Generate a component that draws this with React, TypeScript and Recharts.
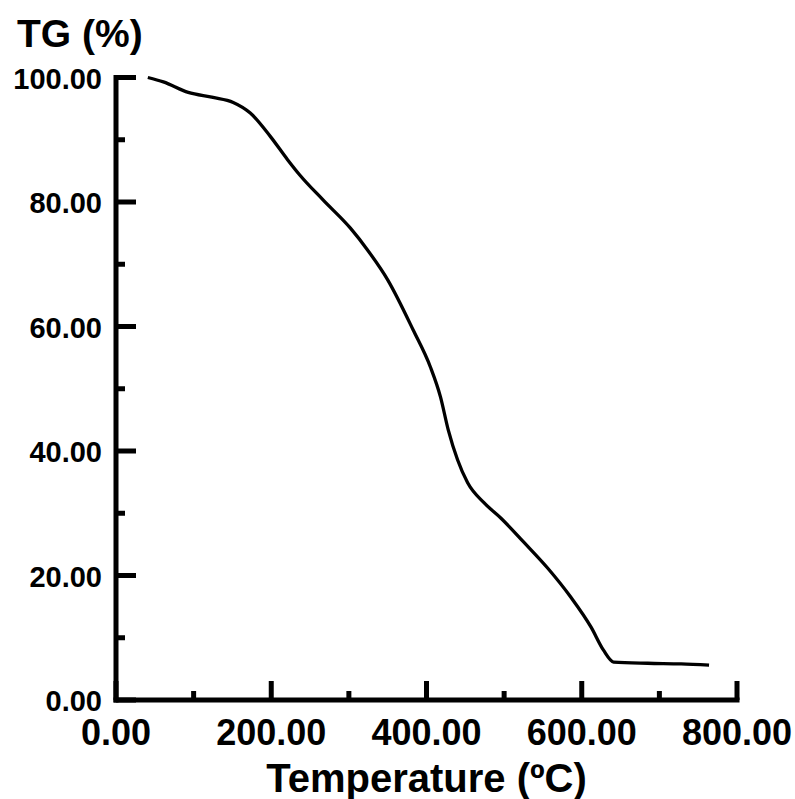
import { LineChart, Line, XAxis, YAxis, Label } from "recharts";

// TG curve (temperature in °C, mass in %)
const temperature = [
  41, 61, 93, 125, 151, 173, 199, 221, 237, 267, 302, 324, 350, 383, 405,
  418, 428, 440, 453, 474, 496, 525, 556, 586, 612, 628, 641, 685, 728, 764,
];
const tg = [
  100.0, 99.3, 97.6, 96.8, 96.0, 94.3, 90.5, 86.8, 84.3, 80.3, 75.8, 72.3,
  67.5, 59.4, 53.5, 48.7, 43.4, 38.6, 34.9, 31.7, 29.2, 25.4, 21.2, 16.5,
  11.7, 8.0, 6.1, 5.9, 5.8, 5.6,
];

const xTicks = [0, 100, 200, 300, 400, 500, 600, 700, 800];
const yTicks = [0, 10, 20, 30, 40, 50, 60, 70, 80, 90, 100];

const FONT = "'Liberation Sans', Arial, Helvetica, sans-serif";

const data = temperature.map((t, i) => ({ t, v: tg[i] }));

function XTick({ x, y, payload }: any) {
  const major = payload.value % 200 === 0;
  return (
    <g>
      <line x1={x} x2={x} y1={y} y2={y - (major ? 19 : 9)} stroke="#000" strokeWidth={5} />
      {major && (
        <text
          x={x}
          y={y + 45}
          textAnchor="middle"
          fontSize={36}
          fontWeight="bold"
          fontFamily={FONT}
          fill="#000"
        >
          {payload.value.toFixed(2)}
        </text>
      )}
    </g>
  );
}

function YTick({ x, y, payload }: any) {
  const major = payload.value % 20 === 0;
  return (
    <g>
      <line x1={x} x2={x + (major ? 20 : 9)} y1={y} y2={y} stroke="#000" strokeWidth={5} />
      {major && (
        <text
          x={x - 14}
          y={y + 11}
          textAnchor="end"
          fontSize={29}
          fontWeight="bold"
          fontFamily={FONT}
          fill="#000"
        >
          {payload.value.toFixed(2)}
        </text>
      )}
    </g>
  );
}

export default function App() {
  return (
    <div style={{ position: "absolute", left: 0, top: 0, background: "#fff" }}>
      <LineChart
        width={795}
        height={799}
        data={data}
        margin={{ top: 77.5, right: 58, bottom: 39, left: 16 }}
      >
        <XAxis
          dataKey="t"
          type="number"
          domain={[0, 800]}
          ticks={xTicks}
          interval={0}
          height={60}
          tickSize={0}
          tickMargin={0}
          tickLine={false}
          tick={<XTick />}
          axisLine={{ stroke: "#000", strokeWidth: 5, strokeLinecap: "square" }}
        >
          <Label
            content={() => (
              <text
                x={426.5}
                y={792}
                textAnchor="middle"
                fontSize={40}
                fontWeight="bold"
                fontFamily={FONT}
                fill="#000"
              >
                Temperature (ºC)
              </text>
            )}
          />
        </XAxis>
        <YAxis
          type="number"
          domain={[0, 100]}
          ticks={yTicks}
          interval={0}
          width={100}
          tickSize={0}
          tickMargin={0}
          tickLine={false}
          tick={<YTick />}
          axisLine={{ stroke: "#000", strokeWidth: 5, strokeLinecap: "square" }}
        >
          <Label
            content={() => (
              <text
                x={17}
                y={47}
                fontSize={39}
                fontWeight="bold"
                fontFamily={FONT}
                fill="#000"
              >
                TG (%)
              </text>
            )}
          />
        </YAxis>
        <Line
          type="monotone"
          dataKey="v"
          stroke="#000"
          strokeWidth={3.3}
          dot={false}
          isAnimationActive={false}
        />
      </LineChart>
    </div>
  );
}
